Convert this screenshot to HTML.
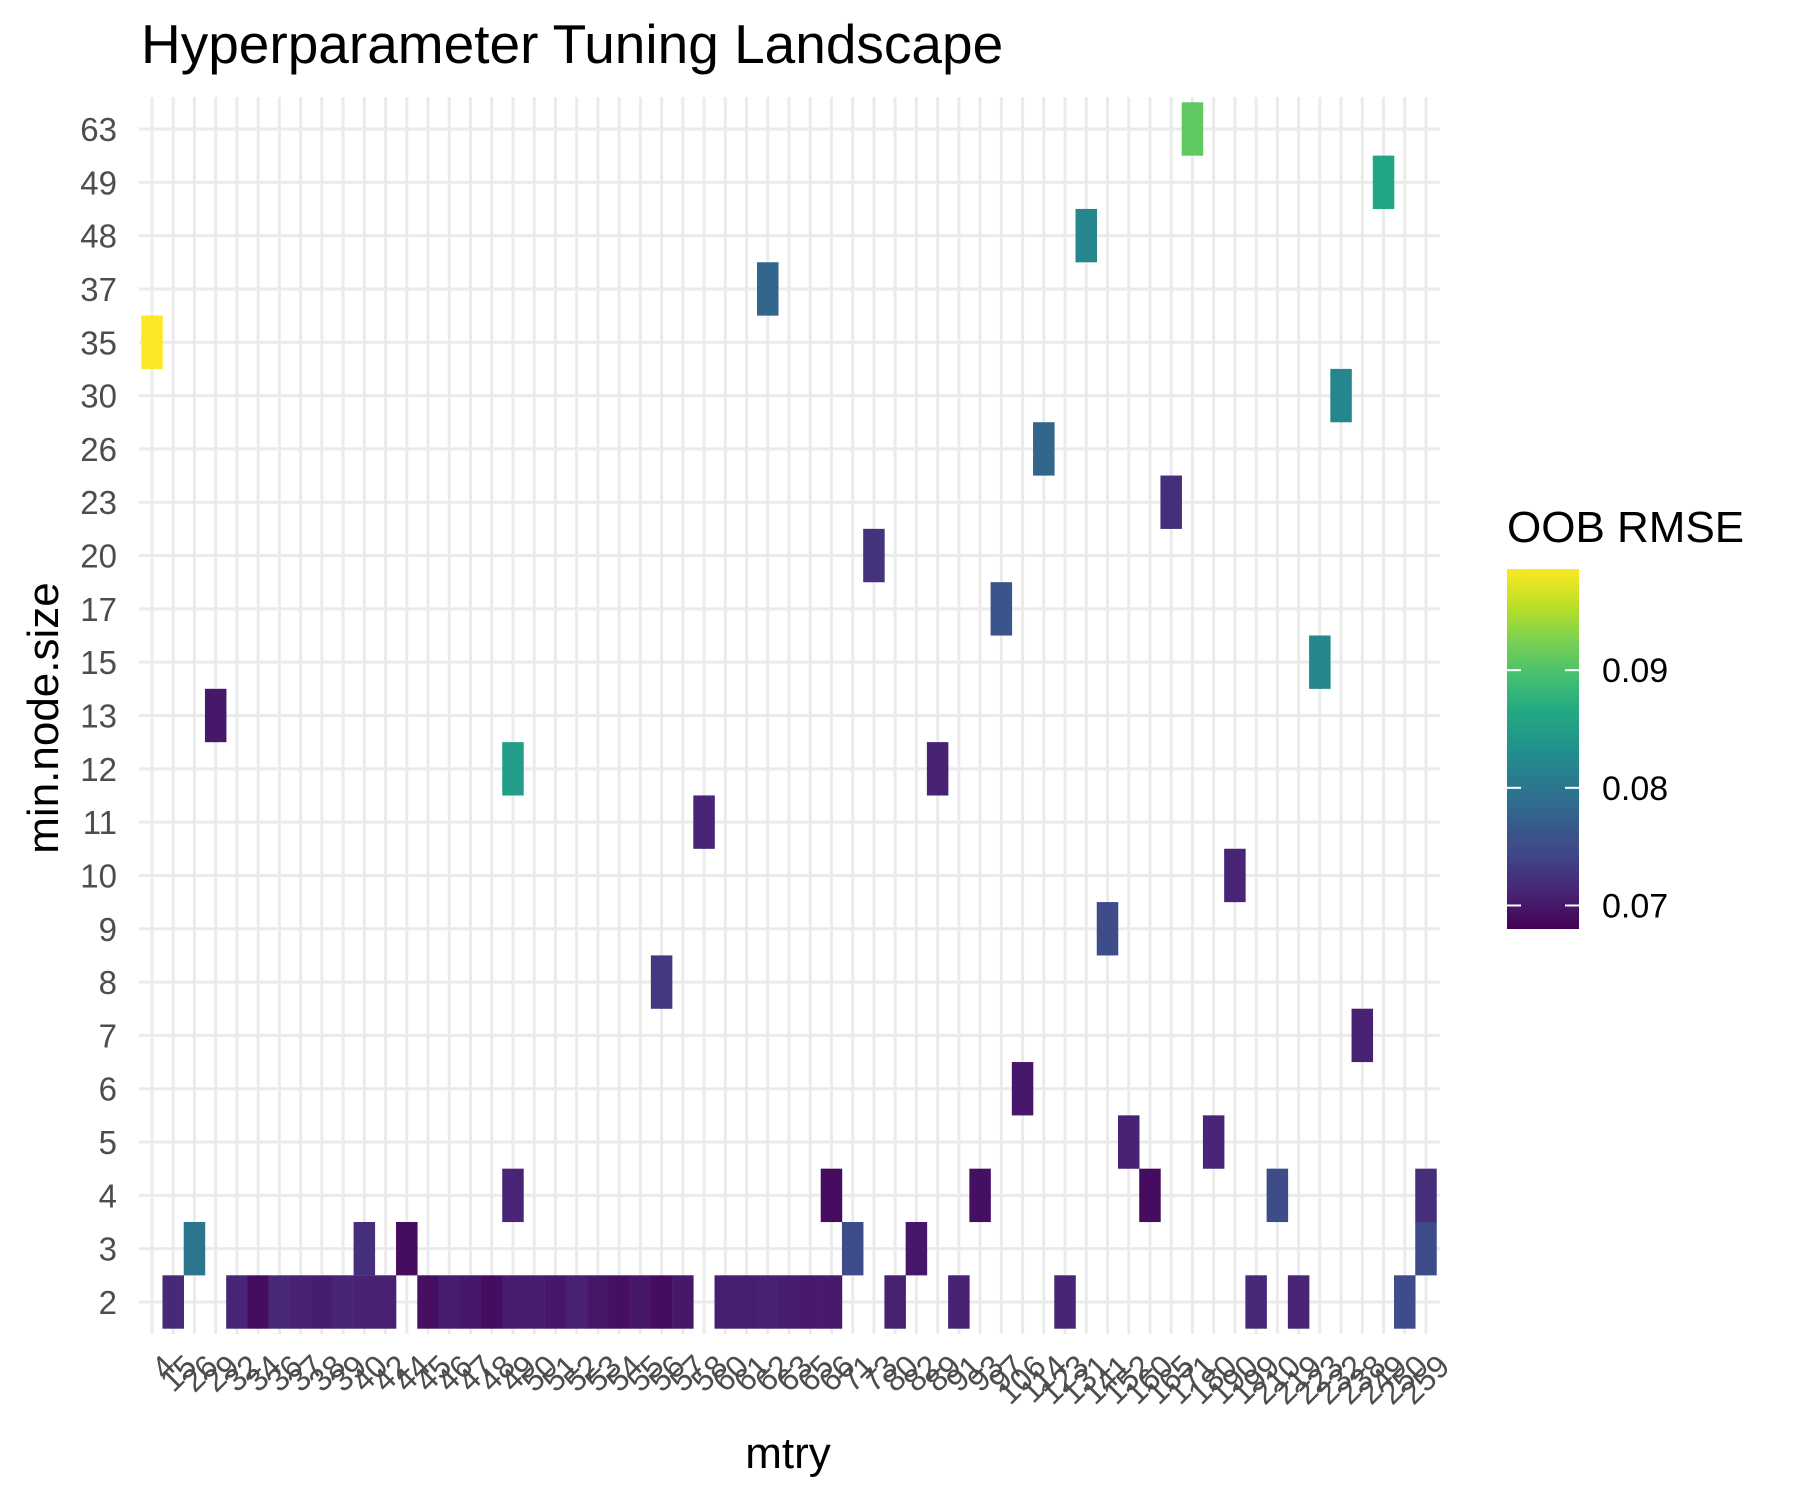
<!DOCTYPE html>
<html><head><meta charset="utf-8"><style>
html,body{margin:0;padding:0;background:#fff;}
svg{display:block;font-family:"Liberation Sans",Arial,sans-serif;}
</style></head><body>
<svg id="chart" width="1800" height="1500" viewBox="0 0 1800 1500" xmlns="http://www.w3.org/2000/svg">
<defs>
<linearGradient id="vir" x1="0" y1="1" x2="0" y2="0">
<stop offset="0" stop-color="#440154"/><stop offset="0.1" stop-color="#482475"/><stop offset="0.2" stop-color="#414487"/><stop offset="0.3" stop-color="#355f8d"/><stop offset="0.4" stop-color="#2a788e"/><stop offset="0.5" stop-color="#21918c"/><stop offset="0.6" stop-color="#22a884"/><stop offset="0.7" stop-color="#44bf70"/><stop offset="0.8" stop-color="#7ad151"/><stop offset="0.9" stop-color="#bddf26"/><stop offset="1" stop-color="#fde725"/>
</linearGradient>
</defs>
<text x="141" y="63" font-size="55" fill="#000">Hyperparameter Tuning Landscape</text>
<g id="grid"></g>
<g id="cells"></g>
<g id="yticks"></g>
<g id="xticks"></g>
<text x="788" y="1468" font-size="44" text-anchor="middle" fill="#000">mtry</text>
<text transform="translate(58,718) rotate(-90)" font-size="44" text-anchor="middle" fill="#000">min.node.size</text>
<g>
<text x="1507" y="542" font-size="44" fill="#000">OOB RMSE</text>
<rect x="1507" y="569" width="72" height="360" fill="url(#vir)"/>
<g id="legticks"></g>
</g>
</svg>
<script>
const xCats=[4,15,26,29,32,34,36,37,38,39,40,42,44,45,46,47,48,49,50,51,52,53,54,55,56,57,58,60,61,62,63,65,66,71,73,80,82,89,91,93,97,106,114,123,131,141,152,160,165,171,180,190,199,210,219,223,232,238,249,250,259];
const yCats=[2,3,4,5,6,7,8,9,10,11,12,13,15,17,20,23,26,30,35,37,48,49,63];
// each cell: column index, min.node.size, RMSE
const cellCol=[1,4,5,6,7,8,9,10,11,13,14,15,16,17,18,19,20,21,22,23,24,25,27,28,29,30,31,32,35,38,43,52,54,59,
 2,10,12,33,36,60, 17,32,39,47,53,60, 46,50, 41, 57, 24, 45, 51, 26, 17,37, 3, 55, 40, 34, 48, 42, 56, 0, 29, 44, 58, 49];
const cellNode=[2,2,2,2,2,2,2,2,2,2,2,2,2,2,2,2,2,2,2,2,2,2,2,2,2,2,2,2,2,2,2,2,2,2,
 3,3,3,3,3,3, 4,4,4,4,4,4, 5,5, 6, 7, 8, 9, 10, 11, 12,12, 13, 15, 17, 20, 23, 26, 30, 35, 37, 48, 49, 63];
const cellVal=[0.0715,0.0712,0.0690,0.0715,0.0708,0.0705,0.0712,0.0710,0.0708,0.0692,0.0705,0.0700,0.0690,0.0703,0.0705,0.0700,0.0708,0.0698,0.0693,0.0700,0.0690,0.0700,0.0706,0.0706,0.0708,0.0705,0.0702,0.0702,0.0708,0.0710,0.0712,0.0715,0.0712,0.0750,
 0.0800,0.0720,0.0690,0.0750,0.0700,0.0750, 0.0712,0.0690,0.0693,0.0690,0.0750,0.0720, 0.0710,0.0712, 0.0700, 0.0710, 0.0730, 0.0750, 0.0712, 0.0712, 0.0850,0.0710, 0.0700, 0.0820, 0.0760, 0.0725, 0.0720, 0.0780, 0.0820, 0.0985, 0.0780, 0.0820, 0.0860, 0.0910];
const legTicks=[0.07,0.08,0.09];

const NS="http://www.w3.org/2000/svg";
const x0=152, xStep=(1426-152)/60, cw=21.5;
const yTop=129, yBot=1302, ch=53.4, yStep=(yBot-yTop)/22;
const vmin=0.0680, vmax=0.0986;
function xPos(i){return x0+i*xStep;}
function yPos(v){return yBot-yCats.indexOf(v)*yStep;}
const vir=["#440154","#482475","#414487","#355f8d","#2a788e","#21918c","#22a884","#44bf70","#7ad151","#bddf26","#fde725"];
function hex(h){return [1,3,5].map(k=>parseInt(h.substr(k,2),16));}
function color(v){let t=(v-vmin)/(vmax-vmin);t=Math.max(0,Math.min(1,t))*10;let i=Math.min(9,Math.floor(t)),f=t-i;
 const a=hex(vir[i]),b=hex(vir[i+1]);return "rgb("+a.map((c,k)=>Math.round(c+(b[k]-c)*f)).join(",")+")";}
function mk(tag,attrs,parent){const e=document.createElementNS(NS,tag);for(const k in attrs)e.setAttribute(k,attrs[k]);parent.appendChild(e);return e;}

const grid=document.getElementById('grid');
for(let i=0;i<xCats.length;i++){
 const l=mk('line',{x1:xPos(i),x2:xPos(i),y1:97,y2:1334,stroke:'#ebebeb','stroke-width':3},grid);
 
 
}
yCats.forEach(v=>{
 const l=mk('line',{x1:139,x2:1440,y1:yPos(v),y2:yPos(v),stroke:'#ebebeb','stroke-width':3},grid);
 
 
});
const cells=document.getElementById('cells');
for(let k=0;k<cellCol.length;k++){
 const r=mk('rect',{x:xPos(cellCol[k])-cw/2,y:yPos(cellNode[k])-ch/2,width:cw,height:ch,fill:color(cellVal[k])},cells);
 
 
}
const yt=document.getElementById('yticks');
yCats.forEach(v=>{
 const t=mk('text',{x:117,y:yPos(v)+12,'font-size':33,'text-anchor':'end',fill:'#4d4d4d'},yt);
 t.textContent=v;
 
 
});
const xt=document.getElementById('xticks');
xCats.forEach((v,i)=>{
 const t=mk('text',{transform:'translate('+(xPos(i)+9)+',1352) rotate(-45)','font-size':32,'text-anchor':'end','dominant-baseline':'hanging',fill:'#4d4d4d'},xt);
 t.textContent=v;
 
 
});
const lg=document.getElementById('legticks');
legTicks.forEach(v=>{
 const y=929-(v-vmin)/(vmax-vmin)*360;
 const a=mk('line',{x1:1507,x2:1521,y1:y,y2:y,stroke:'#fff','stroke-width':2},lg);
 
 
 const b=mk('line',{x1:1565,x2:1579,y1:y,y2:y,stroke:'#fff','stroke-width':2},lg);
 
 
 const t=mk('text',{x:1602,y:y+12,'font-size':34,fill:'#000'},lg);
 t.textContent=v.toFixed(2);
 
 
});
</script>
</body></html>
